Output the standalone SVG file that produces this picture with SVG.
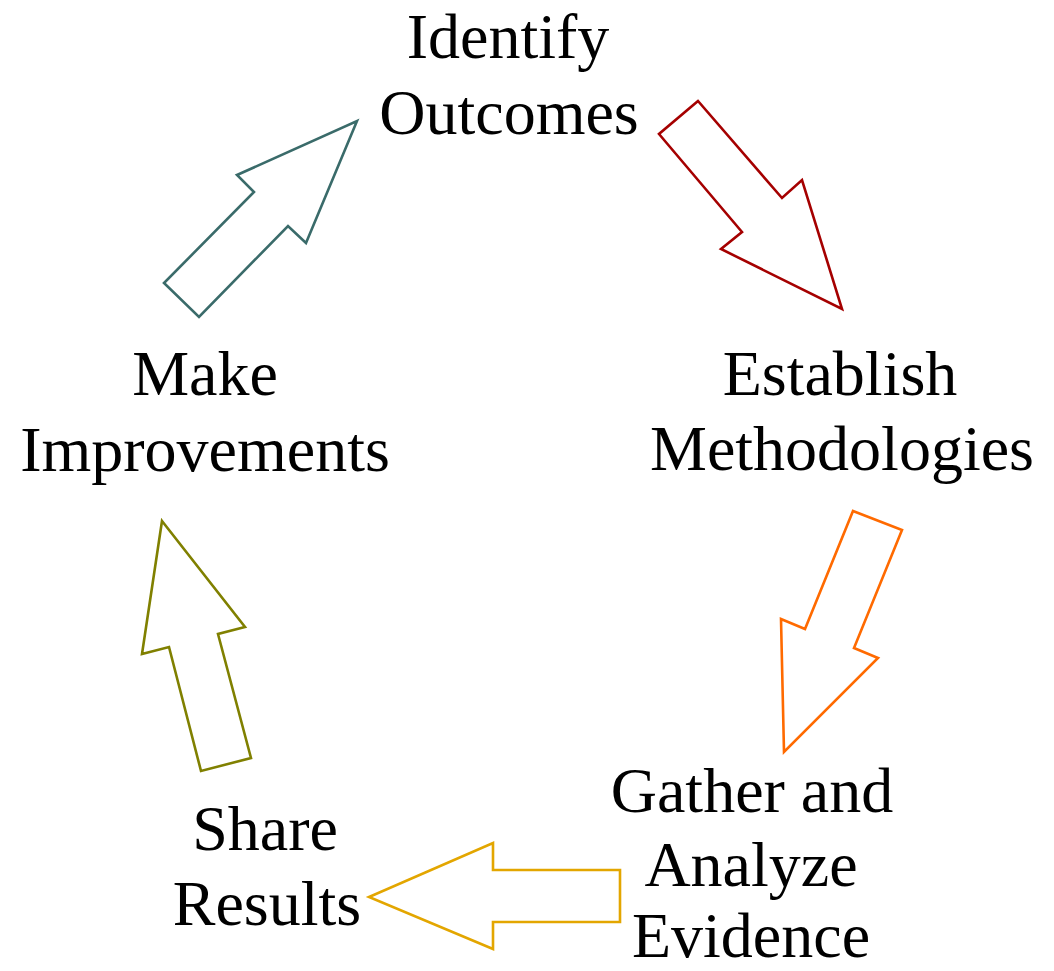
<svg xmlns="http://www.w3.org/2000/svg" width="1054" height="971" viewBox="0 0 1054 971">
  <style>
    .label { font-family: "Liberation Serif", "Times New Roman", serif; font-size: 64px; fill: #000; text-anchor: middle; }
    .arrow { fill: #fff; stroke-width: 2.6; stroke-linejoin: miter; }
  </style>
  <rect width="1054" height="971" fill="#fff"/>

  <!-- cycle arrows between the stages -->
  <g id="connectors">
    <polygon class="arrow" stroke="#a50000" points="698,101 659,134 742,232 721,249 842,309 802,180 782,198"/>
    <polygon class="arrow" stroke="#ff6a00" points="853,511 902,530 854,648 878,658 784,752 781,619 805,629"/>
    <polygon class="arrow" stroke="#e3a600" points="493,843 493,870 620,870 620,922 493,922 493,949 369,897"/>
    <polygon class="arrow" stroke="#808000" points="162,521 245,627 218,634 251,758 201,771 169,647 142,654"/>
    <polygon class="arrow" stroke="#3a6b6a" points="357,121 306,243 288,226 199,317 164,283 254,192 237,175"/>
  </g>

  <g id="identify-outcomes">
    <text class="label" x="508" y="58">Identify</text>
    <text class="label" x="509" y="134">Outcomes</text>
  </g>

  <g id="establish-methodologies">
    <text class="label" x="840" y="395">Establish</text>
    <text class="label" x="842" y="470">Methodologies</text>
  </g>

  <g id="gather-analyze-evidence">
    <text class="label" x="752" y="812">Gather and</text>
    <text class="label" x="751" y="886">Analyze</text>
    <text class="label" x="751" y="957">Evidence</text>
  </g>

  <g id="share-results">
    <text class="label" x="265" y="850">Share</text>
    <text class="label" x="267" y="925">Results</text>
  </g>

  <g id="make-improvements">
    <text class="label" x="205" y="395">Make</text>
    <text class="label" x="205" y="471">Improvements</text>
  </g>
</svg>
